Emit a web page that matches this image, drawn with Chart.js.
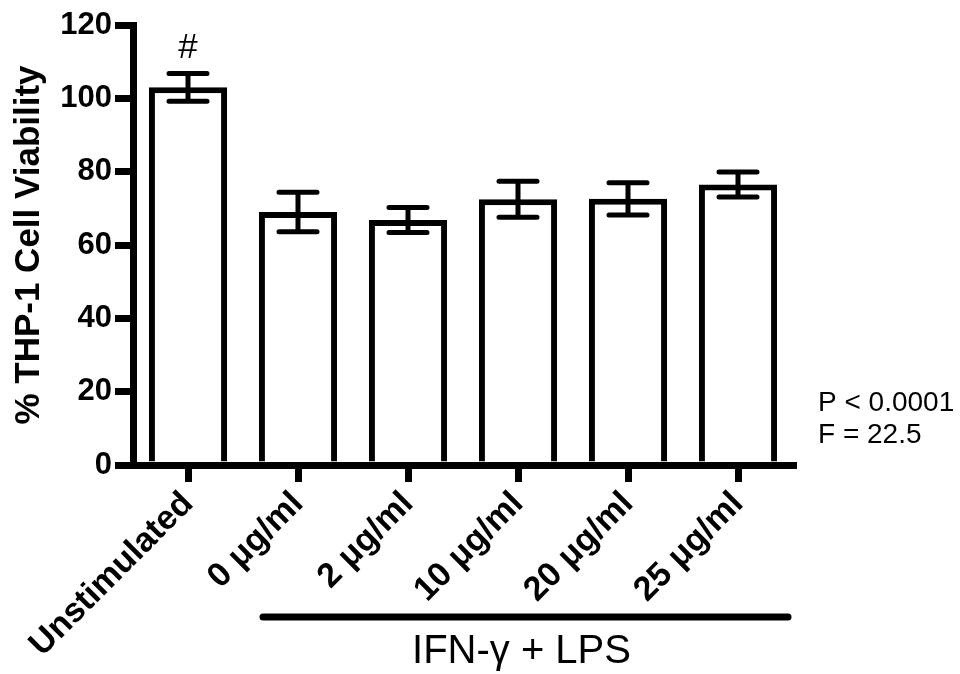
<!DOCTYPE html>
<html>
<head>
<meta charset="utf-8">
<script src="https://cdn.jsdelivr.net/npm/chart.js@4.4.1/dist/chart.umd.min.js"></script>
<style>
  body { margin: 0; background: #fff; }
  canvas { display: block; }
</style>
</head>
<body>
<canvas id="viabilityChart" width="960" height="674"></canvas>
<script>
const categories = ['Unstimulated', '0 μg/ml', '2 μg/ml', '10 μg/ml', '20 μg/ml', '25 μg/ml'];
const viability = [103, 69, 66.8, 72.5, 72.6, 76.5];
const sem = [3.8, 5.4, 3.4, 4.9, 4.4, 3.4];
const yTicks = [0, 20, 40, 60, 80, 100, 120];

const FONT = '"Liberation Sans", Arial, Helvetica, sans-serif';
Chart.defaults.color = '#000';
Chart.defaults.font.family = FONT;

// error bars + annotations, positioned through the chart scales
const errorBars = {
    id: 'errorBars',
    afterDatasetsDraw(chart) {
        const ctx = chart.ctx;
        const meta = chart.getDatasetMeta(0);
        const y = chart.scales.y;
        const x = chart.scales.x;
        ctx.save();
        ctx.strokeStyle = '#000';
        ctx.lineWidth = 5;
        ctx.lineCap = 'round';
        meta.data.forEach((bar, i) => {
            const top = y.getPixelForValue(viability[i] + sem[i]);
            const bot = y.getPixelForValue(viability[i] - sem[i]);
            ctx.beginPath();
            ctx.moveTo(bar.x, top);
            ctx.lineTo(bar.x, bot);
            ctx.moveTo(bar.x - 19, top);
            ctx.lineTo(bar.x + 19, top);
            ctx.moveTo(bar.x - 19, bot);
            ctx.lineTo(bar.x + 19, bot);
            ctx.stroke();
        });

        // significance mark
        ctx.fillStyle = '#000';
        ctx.font = '35px ' + FONT;
        ctx.textAlign = 'center';
        ctx.textBaseline = 'middle';
        ctx.fillText('#', meta.data[0].x, y.getPixelForValue(viability[0] + sem[0]) - 25);

        // group bracket
        const x0 = x.getPixelForValue(1) - 35;
        const x1 = x.getPixelForValue(5) + 50;
        ctx.lineWidth = 7;
        ctx.beginPath();
        ctx.moveTo(x0, 617);
        ctx.lineTo(x1, 617);
        ctx.stroke();
        ctx.font = '40px ' + FONT;
        ctx.fillText('IFN-γ + LPS', (x0 + x1) / 2 - 4, 652);

        // stats
        ctx.font = '28px ' + FONT;
        ctx.textAlign = 'left';
        ctx.fillText('P < 0.0001', 818, 403);
        ctx.fillText('F = 22.5', 818, 435);
        ctx.restore();
    }
};

new Chart(document.getElementById('viabilityChart'), {
    type: 'bar',
    data: {
        labels: categories,
        datasets: [{
            data: viability,
            backgroundColor: '#fff',
            borderColor: '#000',
            borderWidth: 6,
            borderSkipped: 'start',
            barPercentage: 0.71,
            categoryPercentage: 1
        }]
    },
    options: {
        responsive: false,
        animation: false,
        layout: { padding: { top: 25, right: 167, left: 0, bottom: 0 } },
        plugins: { legend: { display: false }, tooltip: { enabled: false } },
        scales: {
            x: {
                grid: { display: true, drawOnChartArea: false, offset: false, color: '#000', lineWidth: 7, tickLength: 17 },
                border: { display: true, color: '#000', width: 7 },
                ticks: {
                    autoSkip: false, maxRotation: 45, minRotation: 45, padding: 2,
                    font: { size: 34, weight: 'bold' }
                },
                afterFit(scale) { scale.height = 674 - 465; }
            },
            y: {
                min: 0,
                max: 120,
                afterBuildTicks(scale) { scale.ticks = yTicks.map(v => ({ value: v })); },
                grid: { display: true, drawOnChartArea: false, color: '#000', lineWidth: 7, tickLength: 18 },
                border: { display: true, color: '#000', width: 7 },
                ticks: { padding: 3, font: { size: 31, weight: 'bold' } },
                title: {
                    display: true,
                    text: '% THP-1 Cell Viability',
                    font: { size: 35, weight: 'bold' },
                    padding: { top: 8, bottom: 0 }
                },
                afterFit(scale) { scale.width = 133; }
            }
        }
    },
    plugins: [errorBars]
});
</script>
</body>
</html>
